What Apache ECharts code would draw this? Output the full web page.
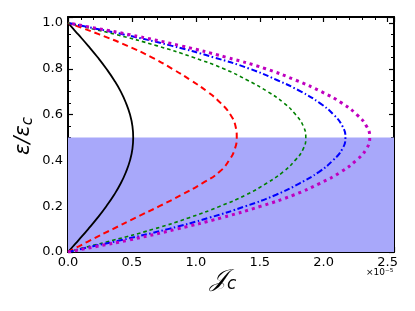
<!DOCTYPE html>
<html>
<head>
<meta charset="utf-8">
<script src="https://cdn.jsdelivr.net/npm/echarts@6/dist/echarts.min.js"></script>
<style>
  html, body { margin: 0; padding: 0; background: #fff; }
  #main { width: 415px; height: 311px; }
</style>
</head>
<body>
<div id="main"></div>
<script>
// epsilon / epsilon_c values (shared by every curve)
var epsRatio = [0, 0.025, 0.05, 0.1, 0.15, 0.2, 0.25, 0.3, 0.35, 0.4, 0.45, 0.5,
                0.55, 0.6, 0.65, 0.7, 0.75, 0.8, 0.85, 0.9, 0.95, 0.975, 1.0];
// J_c (x 1e-5)
var jcBlack   = [0, 0.04, 0.08, 0.158, 0.232, 0.30, 0.361, 0.413, 0.454, 0.485, 0.504, 0.51,
                 0.504, 0.485, 0.454, 0.413, 0.361, 0.30, 0.232, 0.158, 0.08, 0.04, 0];
var jcRed     = [0, 0.085, 0.17, 0.35, 0.53, 0.715, 0.89, 1.05, 1.185, 1.26, 1.305, 1.32,
                 1.31, 1.27, 1.195, 1.09, 0.96, 0.815, 0.655, 0.465, 0.245, 0.125, 0];
var jcGreen   = [0, 0.167, 0.344, 0.67, 0.949, 1.19, 1.395, 1.553, 1.683, 1.776, 1.84, 1.86,
                 1.84, 1.78, 1.69, 1.562, 1.404, 1.218, 0.977, 0.698, 0.372, 0.186, 0];
var jcBlue    = [0, 0.195, 0.401, 0.781, 1.107, 1.389, 1.628, 1.812, 1.964, 2.072, 2.146, 2.17,
                 2.146, 2.077, 1.97, 1.823, 1.638, 1.421, 1.139, 0.814, 0.434, 0.217, 0];
var jcMagenta = [0, 0.23, 0.46, 0.85, 1.204, 1.51, 1.77, 1.971, 2.136, 2.254, 2.334, 2.36,
                 2.334, 2.259, 2.143, 1.982, 1.782, 1.546, 1.239, 0.885, 0.472, 0.236, 0];
// shaded band of eps/eps_c
var bandLow = 0, bandHigh = 0.5;

function pairs(xs) {
  return xs.map(function (x, i) { return [x, epsRatio[i]]; });
}

var myChart = echarts.init(document.getElementById('main'));

var tickFmt = function (step) {
  return function (v) {
    var r = Math.round(v / step) * step;
    return Math.abs(r - v) < 1e-6 ? v.toFixed(1) : '';
  };
};

function mkX(pos, show) {
  return {
    type: 'value', position: pos, min: 0, max: 2.55, interval: 0.5,
    axisLine: { show: true, onZero: false, lineStyle: { color: '#000', width: 2 } },
    axisTick: { show: true, inside: true, length: 5, lineStyle: { color: '#000', width: 1.2 } },
    minorTick: { show: true, splitNumber: 5, length: 3, lineStyle: { color: '#000', width: 1 } },
    splitLine: { show: false },
    axisLabel: { show: show, color: '#000', fontSize: 13, fontFamily: 'DejaVu Sans', margin: 4, formatter: tickFmt(0.5) }
  };
}
function mkY(pos, show) {
  return {
    type: 'value', position: pos, min: 0, max: 1.026, interval: 0.2,
    axisLine: { show: true, onZero: false, lineStyle: { color: '#000', width: 2 } },
    axisTick: { show: true, inside: true, length: 5, lineStyle: { color: '#000', width: 1.2 } },
    minorTick: { show: true, splitNumber: 4, length: 3, lineStyle: { color: '#000', width: 1 } },
    splitLine: { show: false },
    axisLabel: { show: show, color: '#000', fontSize: 13, fontFamily: 'DejaVu Sans', margin: 5, formatter: tickFmt(0.2) }
  };
}

function curve(xs, color, width, dash) {
  return {
    type: 'line', data: pairs(xs), smooth: 0.5, smoothMonotone: 'none', showSymbol: false,
    lineStyle: { color: color, width: width, type: dash }
  };
}

var option = {
  animation: false,
  backgroundColor: '#fff',
  grid: { left: 68, right: 21, top: 17, bottom: 59 },
  xAxis: [mkX('bottom', true), mkX('top', false)],
  yAxis: [mkY('left', true), mkY('right', false)],
  graphic: [
    {
      type: 'text', left: 210, top: 268,
      style: {
        text: '{a|𝒥}{b|c}',
        rich: {
          a: { fontSize: 24, fontFamily: 'DejaVu Serif', fontStyle: 'italic', fill: '#000' },
          b: { fontSize: 17, fontFamily: 'DejaVu Sans', fontStyle: 'italic', fill: '#000', padding: [10, 0, 0, 0] }
        }
      }
    },
    {
      type: 'text', x: 24, y: 136, rotation: Math.PI / 2,
      style: {
        text: '{a|ε/ε}{b|c}', align: 'center', verticalAlign: 'middle',
        rich: {
          a: { fontSize: 21, fontFamily: 'DejaVu Sans', fontStyle: 'italic', fill: '#000' },
          b: { fontSize: 15, fontFamily: 'DejaVu Sans', fontStyle: 'italic', fill: '#000', padding: [8, 0, 0, 0] }
        }
      }
    },
    {
      type: 'text', left: 366, top: 268,
      style: { text: '×10⁻⁵', fontSize: 9, fontFamily: 'DejaVu Sans', fill: '#000' }
    }
  ],
  series: [
    {
      type: 'line', name: 'band', data: [], silent: true,
      markArea: {
        silent: true,
        itemStyle: { color: 'rgb(168,168,250)' },
        data: [[{ yAxis: bandLow }, { yAxis: bandHigh }]]
      }
    },
    curve(jcBlack, '#000', 1.8, 'solid'),
    curve(jcRed, '#ff0000', 2, [6, 4]),
    curve(jcGreen, '#008000', 1.6, [3.5, 3]),
    curve(jcBlue, '#0000ff', 2, [6, 2.5, 1.5, 2.5]),
    curve(jcMagenta, '#bf00bf', 3, [3, 4])
  ]
};
myChart.setOption(option);
</script>
</body>
</html>
